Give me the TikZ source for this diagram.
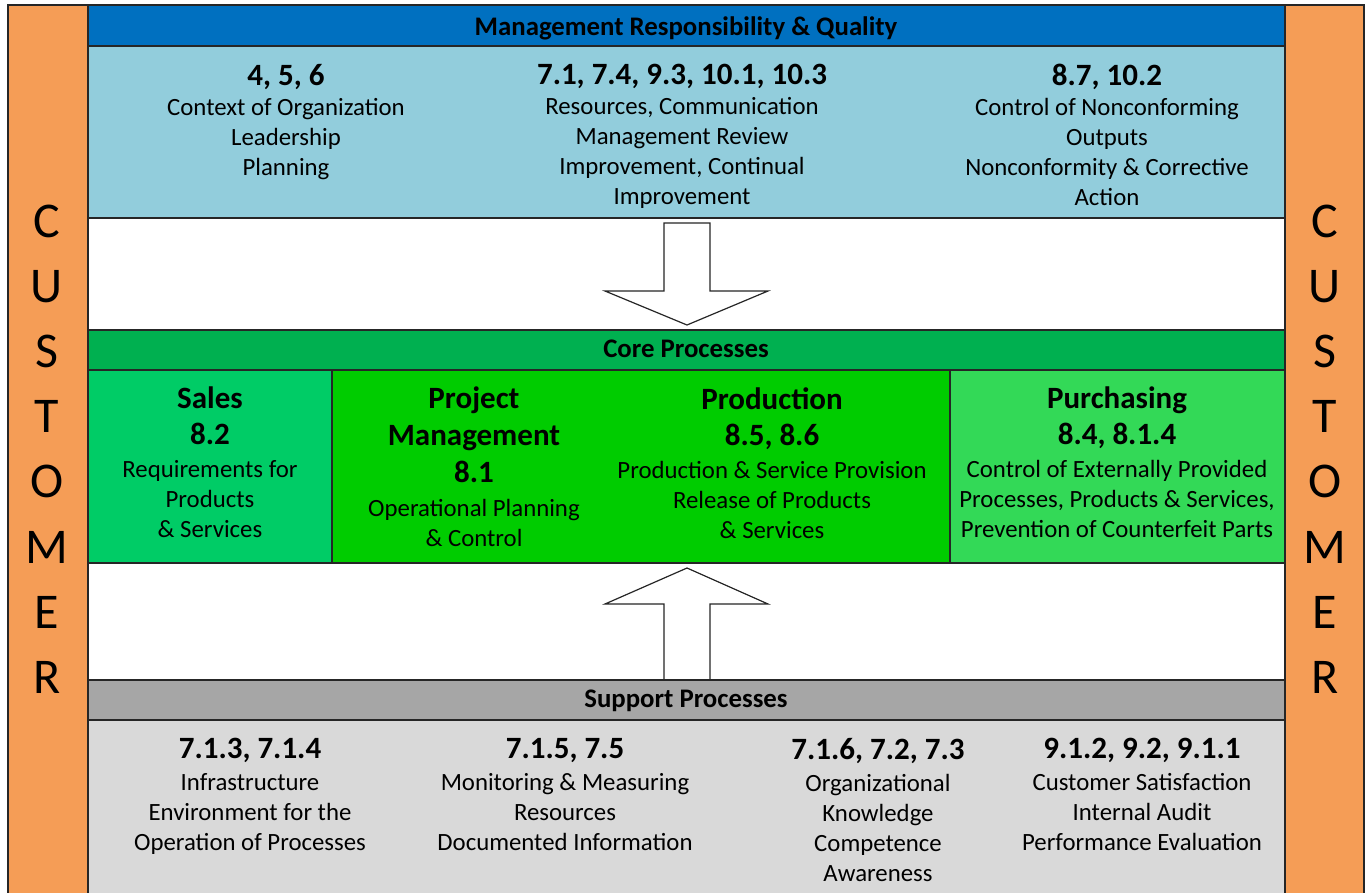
\documentclass[tikz,border=0pt]{standalone}
\usepackage{fontspec}
\setmainfont{Carlito}
\usepackage{tikz}
\usepackage{xcolor}

\definecolor{custorange}{HTML}{F59D56}
\definecolor{mgmtblue}{HTML}{0070C0}
\definecolor{mgmtlight}{HTML}{92CDDC}
\definecolor{coregreen}{HTML}{00B050}
\definecolor{salesgreen}{HTML}{00CC66}
\definecolor{prodgreen}{HTML}{00CC00}
\definecolor{purchgreen}{HTML}{33D957}
\definecolor{supgray}{HTML}{A6A6A6}
\definecolor{suplight}{HTML}{D9D9D9}

\newcommand{\isonum}[1]{{\bfseries\fontsize{31}{36}\selectfont #1}}

\begin{document}
\begin{tikzpicture}[x=1pt,y=1pt]\tikzstyle{every node}+=[inner sep=0pt]
  \tikzstyle{band}=[draw=black!85, line width=1.2pt]
  \tikzstyle{hdr}=[font=\bfseries\fontsize{26.8}{30}\selectfont]
  \tikzstyle{blk}=[align=center, anchor=north, font=\fontsize{24.8}{30}\selectfont]
  \tikzstyle{cust}=[align=center, font=\fontsize{50}{65.2}\selectfont]
  \useasboundingbox (0,0) rectangle (1365,-892);
  \fill [white] (0,0) rectangle (1365,-892);
  % customer bars
  \filldraw [band, fill=custorange] (8,-5) rectangle (88,-900);
  \filldraw [band, fill=custorange] (1285,-5) rectangle (1364,-900);
  \node [cust] (custL) at (47,-449) {C\\U\\S\\T\\O\\M\\E\\R};
  \node [cust] (custR) at (1325,-449) {C\\U\\S\\T\\O\\M\\E\\R};
  % management
  \filldraw [band, fill=mgmtblue] (88,-5) rectangle (1285,-46);
  \filldraw [band, fill=mgmtlight] (88,-46) rectangle (1285,-218);
  \node [hdr] (mgmt) at (686,-28) {Management Responsibility \& Quality};
  \node [blk] (ctx) at (286,-64) {\isonum{4, 5, 6}\\ Context of Organization\\ Leadership\\ Planning};
  \node [blk] (res) at (682,-64) {\isonum{7.1, 7.4, 9.3, 10.1, 10.3}\\ Resources, Communication\\ Management Review\\ Improvement, Continual\\ Improvement};
  \node [blk] (ncr) at (1107,-64) {\isonum{8.7, 10.2}\\ Control of Nonconforming\\ Outputs\\ Nonconformity \& Corrective\\ Action};
  % down arrow
  \filldraw [draw=black!85, line width=1.2pt, fill=white] (664,-223) -- (710,-223) -- (710,-291) -- (768,-291) -- (687,-325) -- (605,-291) -- (664,-291) -- cycle;
  % core
  \filldraw [band, fill=coregreen] (88,-330) rectangle (1285,-370);
  \filldraw [band, fill=salesgreen] (88,-370) rectangle (332,-563);
  \filldraw [band, fill=prodgreen] (332,-370) rectangle (950,-563);
  \filldraw [band, fill=purchgreen] (950,-370) rectangle (1285,-563);
  \node [hdr] (core) at (686,-349) {Core Processes};
  \node [blk] (sales) at (210,-387) {\isonum{Sales}\\[6pt] \isonum{8.2}\\[3pt] Requirements for\\ Products\\ \& Services};
  \node [blk] (pm) at (474,-387) {\isonum{Project}\\[7pt] \isonum{Management}\\[7pt] \isonum{8.1}\\[4pt] Operational Planning\\ \& Control};
  \node [blk] (prod) at (772,-387) {\isonum{Production}\\[6pt] \isonum{8.5, 8.6}\\[3pt] Production \& Service Provision\\ Release of Products\\ \& Services};
  \node [blk] (purch) at (1117,-387) {\isonum{Purchasing}\\[6pt] \isonum{8.4, 8.1.4}\\[3pt] Control of Externally Provided\\ Processes, Products \& Services,\\ Prevention of Counterfeit Parts};
  % up arrow
  \filldraw [draw=black!85, line width=1.2pt, fill=white] (687,-568) -- (768,-604) -- (710,-604) -- (710,-680) -- (664,-680) -- (664,-604) -- (605,-604) -- cycle;
  % support
  \filldraw [band, fill=supgray] (88,-680) rectangle (1285,-720);
  \filldraw [band, fill=suplight] (88,-720) rectangle (1285,-900);
  \node [hdr] (sup) at (686,-701) {Support Processes};
  \node [blk] (infra) at (250,-738) {\isonum{7.1.3, 7.1.4}\\[2pt] Infrastructure\\ Environment for the\\ Operation of Processes};
  \node [blk] (docs) at (565,-738) {\isonum{7.1.5, 7.5}\\[2pt] Monitoring \& Measuring\\ Resources\\ Documented Information};
  \node [blk] (know) at (878,-738) {\isonum{7.1.6, 7.2, 7.3}\\[2pt] Organizational\\ Knowledge\\ Competence\\ Awareness};
  \node [blk] (eval) at (1142,-738) {\isonum{9.1.2, 9.2, 9.1.1}\\[2pt] Customer Satisfaction\\ Internal Audit\\ Performance Evaluation};
\end{tikzpicture}
\end{document}
